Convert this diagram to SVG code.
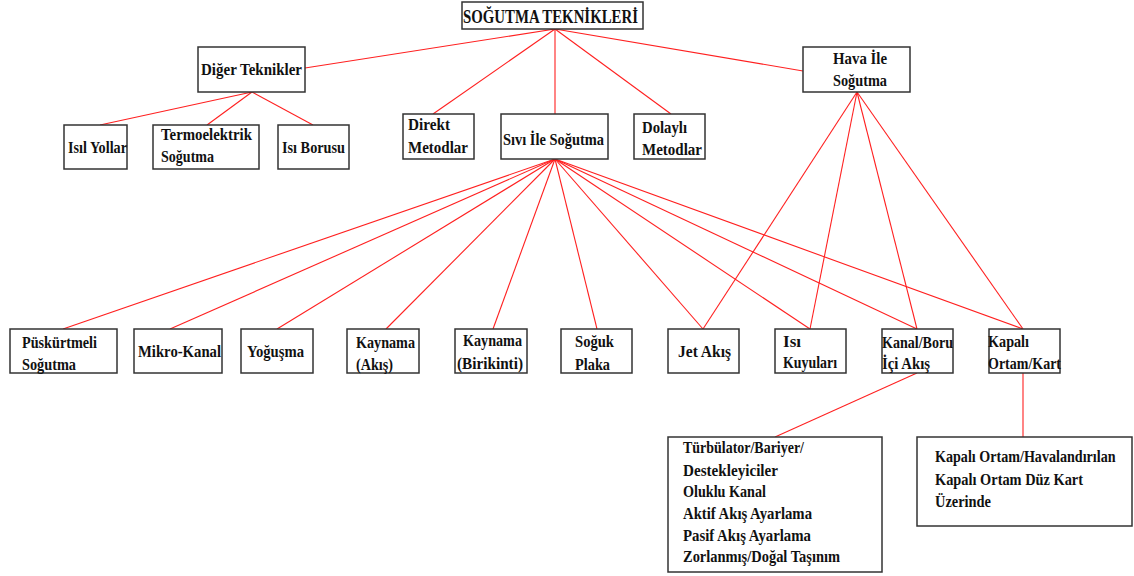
<svg xmlns="http://www.w3.org/2000/svg" width="1134" height="576" viewBox="0 0 1134 576">
<style>
.box{fill:#fff;stroke:#333;stroke-width:1.5}
.t{font-family:"Liberation Serif","Times New Roman",serif;font-weight:bold;font-size:17px;fill:#111}
.title{font-size:18px}
.c line{stroke:#ff2020;stroke-width:1.1}
</style>
<rect width="1134" height="576" fill="#fff"/>
<g class="c" id="connectors">
<line x1="555" y1="29" x2="305" y2="68"/>
<line x1="555" y1="29" x2="803" y2="71"/>
<line x1="555" y1="29" x2="433" y2="114"/>
<line x1="555" y1="29" x2="555" y2="114"/>
<line x1="555" y1="29" x2="671" y2="114"/>
<line x1="252" y1="92" x2="100" y2="125"/>
<line x1="252" y1="92" x2="207" y2="125"/>
<line x1="252" y1="92" x2="313" y2="125"/>
<line x1="555" y1="159" x2="63" y2="329"/>
<line x1="555" y1="159" x2="170" y2="329"/>
<line x1="555" y1="159" x2="277" y2="329"/>
<line x1="555" y1="159" x2="386" y2="329"/>
<line x1="555" y1="159" x2="493" y2="329"/>
<line x1="555" y1="159" x2="597" y2="329"/>
<line x1="555" y1="159" x2="703" y2="329"/>
<line x1="555" y1="159" x2="810" y2="329"/>
<line x1="555" y1="159" x2="917" y2="329"/>
<line x1="555" y1="159" x2="1023" y2="329"/>
<line x1="857" y1="92" x2="703" y2="329"/>
<line x1="857" y1="92" x2="810" y2="329"/>
<line x1="857" y1="92" x2="917" y2="329"/>
<line x1="857" y1="92" x2="1023" y2="329"/>
<line x1="917" y1="373" x2="775" y2="437"/>
<line x1="1023" y1="373" x2="1023" y2="437"/>
</g>
<g id="n-root"><rect class="box" x="462" y="2" width="181" height="27"/><text class="t title" x="463" y="23" textLength="175" lengthAdjust="spacingAndGlyphs">SOĞUTMA TEKNİKLERİ</text></g>
<g id="n-diger"><rect class="box" x="198" y="47" width="107" height="45"/><text class="t" x="201" y="75" textLength="101" lengthAdjust="spacingAndGlyphs">Diğer Teknikler</text></g>
<g id="n-isil"><rect class="box" x="64" y="125" width="63" height="44"/><text class="t" x="68" y="153" textLength="59" lengthAdjust="spacingAndGlyphs">Isıl Yollar</text></g>
<g id="n-termo"><rect class="box" x="153" y="125" width="106" height="44"/><text class="t" x="161" y="140" textLength="91" lengthAdjust="spacingAndGlyphs">Termoelektrik</text><text class="t" x="161" y="162" textLength="53" lengthAdjust="spacingAndGlyphs">Soğutma</text></g>
<g id="n-isiborusu"><rect class="box" x="278" y="125" width="71" height="44"/><text class="t" x="282" y="153" textLength="63" lengthAdjust="spacingAndGlyphs">Isı Borusu</text></g>
<g id="n-direkt"><rect class="box" x="403" y="114" width="71" height="45"/><text class="t" x="408" y="130" textLength="42" lengthAdjust="spacingAndGlyphs">Direkt</text><text class="t" x="408" y="153" textLength="60" lengthAdjust="spacingAndGlyphs">Metodlar</text></g>
<g id="n-sivi"><rect class="box" x="501" y="114" width="107" height="45"/><text class="t" x="503" y="145" textLength="101" lengthAdjust="spacingAndGlyphs">Sıvı İle Soğutma</text></g>
<g id="n-dolayli"><rect class="box" x="634" y="114" width="71" height="45"/><text class="t" x="642" y="133" textLength="45" lengthAdjust="spacingAndGlyphs">Dolaylı</text><text class="t" x="642" y="155" textLength="60" lengthAdjust="spacingAndGlyphs">Metodlar</text></g>
<g id="n-hava"><rect class="box" x="803" y="47" width="107" height="45"/><text class="t" x="833" y="64" textLength="54" lengthAdjust="spacingAndGlyphs">Hava İle</text><text class="t" x="833" y="86" textLength="54" lengthAdjust="spacingAndGlyphs">Soğutma</text></g>
<g id="n-puskurtmeli"><rect class="box" x="10" y="329" width="107" height="44"/><text class="t" x="22" y="348" textLength="75" lengthAdjust="spacingAndGlyphs">Püskürtmeli</text><text class="t" x="22" y="370" textLength="54" lengthAdjust="spacingAndGlyphs">Soğutma</text></g>
<g id="n-mikro"><rect class="box" x="134" y="329" width="88" height="44"/><text class="t" x="138" y="357" textLength="83" lengthAdjust="spacingAndGlyphs">Mikro-Kanal</text></g>
<g id="n-yogusma"><rect class="box" x="241" y="329" width="72" height="44"/><text class="t" x="247" y="357" textLength="57" lengthAdjust="spacingAndGlyphs">Yoğuşma</text></g>
<g id="n-kaynama-akis"><rect class="box" x="347" y="329" width="72" height="44"/><text class="t" x="356" y="348" textLength="59" lengthAdjust="spacingAndGlyphs">Kaynama</text><text class="t" x="356" y="370" textLength="37" lengthAdjust="spacingAndGlyphs">(Akış)</text></g>
<g id="n-kaynama-birikinti"><rect class="box" x="455" y="329" width="72" height="44"/><text class="t" x="463" y="346" textLength="59" lengthAdjust="spacingAndGlyphs">Kaynama</text><text class="t" x="457" y="369" textLength="66" lengthAdjust="spacingAndGlyphs">(Birikinti)</text></g>
<g id="n-soguk"><rect class="box" x="561" y="329" width="71" height="44"/><text class="t" x="575" y="347" textLength="39" lengthAdjust="spacingAndGlyphs">Soğuk</text><text class="t" x="575" y="370" textLength="35" lengthAdjust="spacingAndGlyphs">Plaka</text></g>
<g id="n-jet"><rect class="box" x="668" y="329" width="71" height="44"/><text class="t" x="678" y="357" textLength="53" lengthAdjust="spacingAndGlyphs">Jet Akış</text></g>
<g id="n-isikuyu"><rect class="box" x="775" y="329" width="71" height="44"/><text class="t" x="783" y="347" textLength="18" lengthAdjust="spacingAndGlyphs">Isı</text><text class="t" x="783" y="368" textLength="54" lengthAdjust="spacingAndGlyphs">Kuyuları</text></g>
<g id="n-kanal"><rect class="box" x="882" y="329" width="71" height="44"/><text class="t" x="882" y="348" textLength="71" lengthAdjust="spacingAndGlyphs">Kanal/Boru</text><text class="t" x="882" y="369" textLength="48" lengthAdjust="spacingAndGlyphs">İçi Akış</text></g>
<g id="n-kapali"><rect class="box" x="989" y="329" width="71" height="44"/><text class="t" x="988" y="347" textLength="41" lengthAdjust="spacingAndGlyphs">Kapalı</text><text class="t" x="988" y="369" textLength="73" lengthAdjust="spacingAndGlyphs">Ortam/Kart</text></g>
<g id="n-turbulator"><rect class="box" x="668" y="437" width="214" height="135"/>
<text class="t" x="683" y="453" textLength="121" lengthAdjust="spacingAndGlyphs">Türbülator/Bariyer/</text>
<text class="t" x="683" y="476" textLength="95" lengthAdjust="spacingAndGlyphs">Destekleyiciler</text>
<text class="t" x="683" y="497" textLength="83" lengthAdjust="spacingAndGlyphs">Oluklu Kanal</text>
<text class="t" x="683" y="519" textLength="129" lengthAdjust="spacingAndGlyphs">Aktif Akış Ayarlama</text>
<text class="t" x="683" y="541" textLength="128" lengthAdjust="spacingAndGlyphs">Pasif Akış Ayarlama</text>
<text class="t" x="683" y="562" textLength="157" lengthAdjust="spacingAndGlyphs">Zorlanmış/Doğal Taşınım</text>
</g>
<g id="n-kapali-ortam"><rect class="box" x="917" y="437" width="215" height="89"/>
<text class="t" transform="translate(935,462) scale(0.83,1)" x="0" y="0">Kapalı Ortam/Havalandırılan</text>
<text class="t" x="935" y="485" textLength="148" lengthAdjust="spacingAndGlyphs">Kapalı Ortam Düz Kart</text>
<text class="t" x="935" y="507" textLength="56" lengthAdjust="spacingAndGlyphs">Üzerinde</text>
</g>
</svg>
